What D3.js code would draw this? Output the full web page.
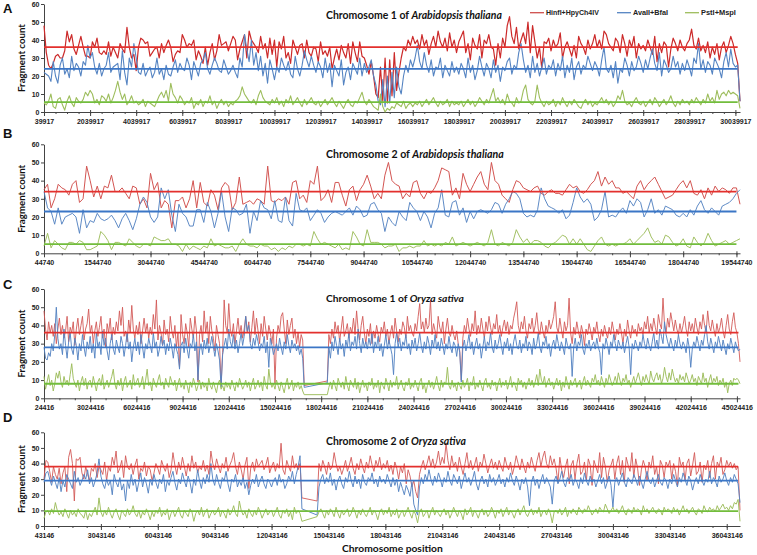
<!DOCTYPE html>
<html><head><meta charset="utf-8">
<script src="https://cdn.jsdelivr.net/npm/d3@7"></script>
<style>body{margin:0;background:#fff}svg{display:block}</style>
</head><body><svg id="chart" width="757" height="555"></svg>
<script>
// ---------- shared ----------
const seriesNames = ["HinfI+HpyCh4IV", "AvaII+BfaI", "PstI+MspI"];
const yTicks = [0, 10, 20, 30, 40, 50, 60];
const stepBp = 100000;
const xAxisTitle = "Chromosome position";
const yAxisTitle = "Fragment count";

// ---------- Panel A : Chromosome 1 of Arabidopsis thaliana ----------
const startA = 39917, labelStepA = 2000000, nA = 303;
const meansA = [36, 24, 5.5];
const redA = [
48,33,26,24,27,31,32,30,30,34,45,39,43,35,32,37,42,36,31,31,
30,39,36,41,33,32,34,32,39,31,36,33,30,38,35,33,47,36,30,32,
23,36,41,40,38,39,31,33,35,36,30,38,33,37,40,36,28,32,34,33,
43,40,36,38,37,40,29,34,31,27,36,26,33,38,29,34,43,37,38,39,
34,38,42,40,29,35,39,43,30,45,40,38,36,33,42,35,38,30,41,32,
40,25,39,35,42,30,33,27,40,36,32,37,38,30,40,33,31,36,35,28,
39,32,34,31,36,24,30,35,29,37,33,30,38,27,39,33,28,39,31,30,
26,21,28,20,10,8,25,6,30,5,29,9,33,12,22,30,36,34,40,37,
42,38,40,35,43,37,40,32,38,42,36,45,39,36,41,34,44,36,40,33,
39,42,45,33,38,29,41,37,35,43,30,40,38,43,36,35,26,38,30,41,
36,48,53,42,38,47,35,40,44,38,50,33,48,39,30,36,24,39,38,41,
34,40,36,38,44,30,36,39,35,31,37,30,42,38,36,32,40,35,38,43,
36,40,35,45,43,38,36,34,41,39,33,43,38,31,40,36,42,30,38,35,
37,34,40,36,32,42,28,38,33,39,37,25,35,41,38,34,40,36,34,38,
40,46,37,35,41,34,37,33,39,30,36,32,38,29,36,39,33,37,42,38,
32,27,6];
const blueA = [
22,21,20,17,28,20,16,26,30,21,24,19,31,23,27,25,20,28,26,37,
30,33,25,21,27,20,24,26,33,22,25,26,27,18,34,22,15,30,25,38,
30,22,21,27,20,23,25,19,22,30,21,24,18,26,21,20,25,29,22,27,
24,23,30,26,18,28,24,20,27,29,33,24,21,26,30,27,23,22,29,25,
21,23,26,22,19,30,25,43,35,28,40,26,33,23,31,20,27,16,29,24,
18,25,22,30,26,23,28,21,19,31,24,20,26,34,29,25,31,26,22,28,
25,19,30,22,27,14,26,23,20,29,15,22,25,18,27,24,21,30,20,27,
22,25,29,20,15,6,4,18,3,20,5,22,8,25,14,10,20,26,22,29,
25,30,37,28,24,33,26,22,29,20,25,24,30,19,26,23,20,28,22,25,
21,27,24,19,30,22,26,18,23,31,25,20,27,24,19,29,22,26,17,25,
23,28,30,21,26,24,33,38,29,22,26,19,31,22,27,20,25,30,21,26,
24,29,20,27,23,31,19,26,22,30,18,25,28,21,26,24,31,27,23,28,
25,20,29,36,24,22,26,19,28,16,24,22,30,26,20,28,23,25,31,27,
22,29,24,30,35,27,23,33,20,29,26,22,24,31,25,28,21,27,23,29,
25,20,30,27,38,24,29,22,28,26,21,30,27,24,19,28,33,25,35,27,
25,26,6];
const greenA = [
5,4,6,10,3,2,7,8,4,1,6,9,5,3,8,6,5,7,11,9,
12,10,5,7,4,9,8,6,10,5,8,12,17,11,7,10,4,6,9,5,
6,4,5,7,3,6,5,4,3,6,9,11,8,12,6,16,10,8,5,9,
7,4,6,5,8,2,5,4,7,3,6,5,9,4,6,2,5,7,4,6,
3,5,4,6,7,9,14,10,8,6,5,7,4,9,12,8,6,5,4,7,
5,8,4,6,3,7,5,9,4,6,8,5,3,7,4,6,8,5,4,6,
3,5,7,4,6,8,5,3,6,4,2,5,7,4,3,6,5,8,11,6,
4,7,5,3,2,1,10,3,0,2,1,3,2,5,4,3,6,2,4,5,
3,5,4,6,3,5,7,4,6,8,5,3,6,4,5,7,3,6,4,5,
4,6,3,5,7,4,6,3,5,8,6,4,7,5,9,13,6,8,5,7,
4,10,6,5,3,8,5,6,12,15,7,5,4,6,15,8,5,3,6,4,
5,7,3,6,4,8,5,3,6,4,7,5,3,2,5,7,4,6,3,5,
4,6,8,5,7,4,6,3,5,9,7,12,6,4,5,3,6,8,5,4,
6,3,5,7,4,8,6,3,5,7,4,6,9,5,3,6,4,7,5,6,
4,7,5,8,6,4,7,5,10,6,8,5,12,7,10,11,9,12,10,11,
10,9,2];

// ---------- Panel B : Chromosome 2 of Arabidopsis thaliana ----------
const startB = 44740, labelStepB = 1500000, nB = 197;
const meansB = [34, 23, 5];
const redB = [
35,38,25,30,38,36,35,32,38,40,28,30,48,40,31,
37,30,37,36,43,34,34,36,33,30,37,36,27,30,25,
44,35,39,25,29,27,14,29,29,31,25,30,40,25,39,
28,26,35,32,24,36,39,37,24,28,42,27,28,29,27,
30,29,27,48,29,28,30,29,31,27,39,40,30,32,28,
40,38,48,29,31,35,28,39,39,32,26,35,37,29,35,
38,43,37,30,33,30,43,50,40,38,37,30,33,31,39,
40,33,30,34,33,36,40,47,46,45,32,36,30,44,38,
34,38,42,45,38,35,50,40,38,32,30,28,35,40,39,
36,35,34,36,37,33,32,34,35,33,33,32,35,38,36,
37,34,33,35,38,40,45,37,42,38,40,36,36,33,34,
32,30,37,40,35,38,40,42,38,34,30,31,32,35,38,
40,36,40,33,32,35,30,36,32,37,34,36,35,33,36,
36,27];
const blueB = [
34,25,23,16,25,16,20,21,22,20,11,24,14,18,17,
22,19,18,19,21,18,14,19,22,18,13,19,27,31,28,
20,17,20,36,30,35,21,12,27,22,20,15,15,24,24,
17,28,23,14,22,34,20,12,25,24,21,22,27,11,23,
18,29,25,24,19,29,18,17,31,18,15,33,24,23,25,
18,21,24,22,17,20,22,23,22,21,23,25,21,26,24,
20,21,27,28,24,22,12,20,17,15,23,20,18,28,25,
23,18,23,20,14,22,25,35,21,20,28,29,21,25,17,
23,19,23,24,23,22,24,28,27,22,27,30,34,33,30,
22,20,21,20,24,36,30,26,25,24,22,24,19,21,28,
36,31,28,30,27,18,20,24,34,20,21,20,23,25,22,
29,26,30,28,20,24,30,22,24,21,26,25,24,21,20,
22,20,24,21,26,29,24,22,25,23,21,26,27,28,30,
33,35];
const greenB = [
4,11,3,7,5,3,2,6,6,5,7,6,2,2,3,
4,12,10,7,2,6,6,5,4,8,6,4,3,5,5,
4,9,8,7,7,8,5,5,4,1,5,2,4,3,2,
4,3,8,4,5,4,3,3,4,1,5,8,5,4,4,
3,5,4,4,2,3,1,3,2,4,3,5,5,4,5,
4,12,8,5,6,5,4,3,5,2,3,2,12,9,5,
4,13,6,6,6,5,3,4,4,5,1,3,3,4,3,
4,4,7,4,5,4,5,4,6,5,9,4,5,6,5,
4,5,6,5,4,6,13,5,4,6,5,4,6,13,9,
6,8,5,7,7,6,4,3,5,6,8,10,9,5,8,
5,8,5,2,1,4,7,9,5,4,5,4,5,5,6,
8,5,7,9,11,14,9,6,7,5,10,9,6,4,5,
8,4,3,9,6,4,6,11,7,4,5,6,7,5,6,
7,8];

// ---------- Panel C : Chromosome 1 of Oryza sativa ----------
const startC = 24416, labelStepC = 3000000, nC = 453;
const meansC = [36, 28, 8];
const redC = [
48,38,32,42,36,40,34,41,30,38,44,35,40,33,37,45,31,39,36,42,29,38,44,35,40,45,32,38,41,49,
36,40,30,37,42,34,39,45,33,38,28,41,36,44,32,39,35,42,37,48,40,50,34,37,31,43,36,51,38,33,
40,35,42,30,37,44,36,41,33,39,35,46,38,54,32,40,36,29,43,35,38,31,45,37,33,40,28,36,17,46,
35,30,41,36,28,44,38,33,45,37,9,35,40,31,48,36,42,30,45,37,33,26,40,35,30,7,25,54,40,36,
52,38,34,41,30,37,44,35,40,33,38,45,36,42,31,39,48,35,44,37,30,41,34,45,38,32,40,36,30,38,
8,33,40,36,45,47,38,30,43,35,40,44,33,38,30,36,28,35,32,7,null,null,null,null,null,null,null,null,null,null,
null,null,null,null,9.5,35,30,38,33,42,36,40,31,38,45,34,37,41,33,39,36,44,35,48,38,32,40,45,36,30,
38,34,41,30,37,33,40,35,31,39,36,42,34,38,30,36,40,33,44,37,31,38,35,42,39,33,45,37,40,36,
34,41,37,45,52,38,42,36,44,38,40,54,35,41,37,33,45,39,36,42,30,38,44,36,34,40,35,32,37,30,
26,10,33,40,36,44,38,34,41,37,48,35,40,36,44,38,33,42,37,45,39,35,41,38,46,36,40,34,39,43,
37,42,35,40,38,44,48,53,40,36,42,38,45,37,33,41,38,44,36,40,47,38,35,42,37,33,40,36,43,38,
41,45,53,39,36,44,38,33,42,37,40,55,36,30,39,35,42,37,33,40,36,29,38,35,41,37,32,39,36,42,
35,31,38,34,40,36,33,39,35,42,37,32,38,35,41,36,30,38,34,43,37,33,40,36,38,34,41,37,39,35,
42,38,45,36,41,37,44,39,35,46,41,38,55,40,36,44,39,47,42,37,43,38,35,41,36,40,45,38,34,42,
37,41,36,44,39,35,42,38,46,40,36,48,40,37,43,38,34,41,36,39,44,37,33,40,46,38,35,42,47,39,
36,30,20];
const blueC = [
28,22,21,25,23,30,26,35,50,33,27,30,24,38,29,22,31,36,27,24,33,29,21,30,26,35,28,23,31,27,
34,25,30,22,36,28,31,24,37,29,33,26,21,30,35,27,24,32,28,25,34,30,23,29,36,27,31,20,28,33,
26,31,24,35,28,22,30,27,33,29,25,36,28,31,23,27,34,29,32,24,30,26,33,28,22,30,27,24,16,29,
31,25,33,27,22,30,28,35,26,31,10,26,30,24,32,27,33,25,29,34,28,23,30,26,21,6,24,29,33,27,
38,31,28,35,27,32,25,30,36,29,34,45,37,40,30,27,33,29,35,31,26,30,28,34,25,31,17,33,29,24,
27,30,26,33,28,24,31,27,35,29,25,32,28,30,26,29,24,27,22,6,null,null,null,null,null,null,null,null,null,null,
null,null,null,null,8.5,28,22,31,26,34,29,24,33,27,30,23,32,28,36,26,31,29,34,27,38,30,25,33,28,31,
27,33,29,36,25,31,28,34,26,30,23,29,35,27,32,28,24,13,30,36,28,33,26,31,29,35,27,30,24,32,
28,33,26,30,36,29,25,31,27,34,30,24,32,28,35,27,31,26,33,29,24,30,27,34,28,25,31,29,23,30,
25,9,28,32,26,30,35,27,31,24,29,33,27,30,22,28,34,26,31,29,36,28,25,32,27,30,35,29,24,31,
28,33,26,30,24,31,35,29,27,32,25,30,28,34,26,31,29,24,33,27,30,36,28,25,31,29,34,27,30,23,
29,32,27,35,30,26,31,28,24,33,29,27,30,12,28,33,26,31,29,35,27,24,30,28,32,26,29,31,27,33,
28,25,13,30,27,33,29,24,31,28,35,30,26,32,29,27,31,25,30,34,28,13,30,27,32,29,26,31,28,35,
30,27,33,29,26,31,36,28,32,27,38,34,30,42,35,31,28,33,29,26,32,28,35,30,27,31,29,25,33,28,
17,27,31,28,34,30,26,32,29,35,40,31,27,33,29,25,31,28,34,30,26,32,28,24,30,27,33,29,25,31,
28,26,27];
const greenC = [
12,5,9,13,7,10,4,8,14,11,15,9,6,12,8,10,7,13,19,11,8,6,10,4,9,12,7,11,5,9,
10,6,12,8,4,9,11,7,13,5,8,10,6,9,12,16,8,5,10,7,11,4,9,12,6,8,10,5,13,7,
9,11,6,8,12,5,10,16,7,9,4,11,8,6,10,13,7,9,5,11,8,6,12,9,7,10,4,8,11,6,
8,5,10,7,3,9,6,11,8,4,7,10,5,9,6,8,4,11,7,5,9,6,3,8,10,5,7,4,9,6,
8,5,10,7,4,9,6,11,8,5,7,10,6,9,4,8,11,5,7,10,6,9,4,12,7,5,16,9,6,8,
5,10,7,4,9,6,3,8,11,5,7,10,4,8,6,9,5,7,4,2,null,null,null,null,null,null,null,null,null,null,
null,null,null,null,2,6,9,5,10,7,4,11,8,6,9,5,12,7,4,10,8,6,11,5,9,3,7,10,6,8,
4,9,7,11,5,8,6,10,3,9,7,5,11,8,4,10,6,9,7,12,5,8,10,6,4,9,7,11,5,8,
6,10,7,4,9,11,5,8,3,7,10,6,9,5,8,12,7,4,10,6,9,8,17,7,5,10,6,8,4,9,
7,5,10,6,8,11,4,9,7,12,5,8,6,10,7,4,9,11,6,8,5,10,7,9,4,8,11,6,9,7,
10,5,8,12,6,9,7,4,11,8,10,6,9,5,8,11,7,10,6,9,13,7,16,10,8,12,6,9,11,7,
9,5,8,11,7,10,4,9,6,12,8,5,10,7,9,11,6,8,10,5,9,12,7,10,8,6,11,9,13,8,
10,7,12,9,6,11,8,13,10,7,9,12,8,14,10,7,11,9,13,8,10,6,9,12,8,11,14,10,7,12,
9,13,10,8,15,11,9,12,14,10,13,8,11,17,12,9,14,10,16,12,9,11,8,13,10,12,9,14,11,8,
10,13,9,11,7,12,10,8,14,9,11,6,10,13,8,11,9,12,7,10,8,11,6,9,3,8,10,7,11,10,
11,10,8];

// ---------- Panel D : Chromosome 2 of Oryza sativa ----------
const startD = 43146, labelStepD = 3000000, nD = 368;
const meansD = [38, 29, 9.5];
const redD = [
30,42,41,35,28,38,33,30,37,27,34,38,22,44,49,40,16,43,42,44,34,30,38,33,29,37,35,40,31,38,
36,33,41,29,38,35,44,39,48,34,37,42,31,45,38,36,40,33,39,43,30,37,35,41,32,38,36,29,34,40,
37,33,42,38,35,40,31,36,47,39,33,41,36,44,38,32,40,35,45,37,41,34,38,36,42,35,39,33,48,40,
36,43,38,34,40,37,44,35,39,42,47,38,33,41,36,30,39,44,24,37,41,35,43,38,40,42,36,39,44,34,
38,41,35,40,37,53,36,33,42,38,35,45,37,40,36,40,18,null,null,null,null,null,null,null,16,40,35,42,38,33,
41,36,38,47,40,35,38,33,37,42,35,39,44,37,33,40,36,43,38,34,41,37,45,39,35,42,38,44,36,40,
37,42,35,39,33,41,37,30,38,34,40,27,36,32,25,29,22,18,33,38,42,36,40,45,38,43,37,41,48,39,
44,40,53,42,36,45,38,41,35,44,38,33,40,47,37,42,36,39,44,35,41,38,46,40,34,39,43,37,41,36,
42,38,35,44,39,36,41,33,38,45,40,36,43,38,34,41,37,44,39,35,42,47,38,44,48,40,37,45,39,43,
37,28,44,36,31,38,43,27,39,42,30,40,46,33,35,41,29,43,39,26,42,38,34,47,31,44,38,28,36,39,
43,30,40,45,33,42,28,44,39,35,47,31,43,37,26,36,42,38,29,41,37,45,33,38,27,42,39,31,41,38,
42,30,40,35,26,44,38,41,29,40,43,32,39,47,33,35,41,28,39,36,42,31,40,45,30,41,38,44,33,36,
42,38,41,37,40,36,38,10];
const blueD = [
28,34,35,30,26,32,28,24,31,22,29,25,33,30,27,24,35,28,31,26,29,33,30,36,27,31,25,29,34,43,
32,27,24,30,26,29,20,33,28,25,31,23,27,16,29,24,33,26,30,22,28,34,25,31,27,21,30,26,33,28,
24,30,27,33,22,29,26,31,35,28,23,30,27,34,29,25,32,28,21,30,26,36,29,24,31,27,33,28,40,30,
26,33,28,24,31,29,35,27,22,30,28,33,25,29,26,31,24,28,20,26,30,27,33,25,29,32,27,24,30,28,
25,29,31,26,33,28,30,24,27,32,29,35,27,33,38,45,11,null,null,null,null,null,null,null,7,25,30,33,27,31,
28,34,26,30,23,29,32,27,24,31,28,35,29,25,32,27,30,24,33,28,26,31,29,34,27,30,25,32,28,30,
27,33,29,25,31,26,30,22,28,24,20,26,23,19,28,14,10,7,25,31,27,33,29,36,30,26,32,28,34,30,
25,31,28,35,29,26,33,30,27,32,24,29,34,28,31,26,30,35,27,23,29,32,27,30,25,33,28,31,26,29,
33,27,30,25,31,28,34,29,26,32,28,23,30,27,31,25,13,28,32,26,30,24,29,33,27,31,28,25,14,29,
32,27,30,35,28,25,31,29,33,26,30,28,24,31,27,34,29,26,32,28,30,25,29,33,27,31,24,28,32,26,
12,28,31,26,30,34,28,25,31,29,27,33,30,26,32,28,24,30,35,29,27,31,25,29,33,28,26,31,29,24,
30,27,33,29,25,31,28,34,30,26,32,29,23,28,31,27,33,29,26,30,28,35,27,31,29,25,32,28,30,34,
29,26,31,28,33,30,27,15];
const greenD = [
5,9,10,7,11,8,15,10,7,9,6,11,8,5,10,7,9,6,11,8,7,5,10,4,8,6,9,12,7,18,
9,6,10,7,12,8,5,9,11,7,4,10,8,6,11,7,9,13,8,6,10,5,9,7,11,8,4,9,6,10,
8,12,6,9,7,11,4,8,10,6,9,12,7,5,10,8,6,11,9,3,8,10,7,12,6,9,11,5,8,10,
7,9,12,6,10,8,5,11,7,9,13,8,6,16,10,7,9,5,11,8,6,10,7,12,9,5,8,11,7,9,
10,6,9,12,7,5,10,8,11,6,9,4,12,8,10,8,3,null,null,null,null,null,null,null,6,9,11,8,5,10,
7,11,9,6,12,8,5,10,7,9,11,6,8,12,9,5,10,7,11,8,6,9,12,7,10,8,4,9,11,7,
10,8,12,6,9,7,11,5,8,10,6,9,12,8,5,10,7,2,9,11,6,8,10,5,9,12,7,10,8,6,
9,11,7,10,5,8,12,9,6,10,8,4,11,7,9,12,6,10,8,5,9,11,7,10,6,8,12,9,5,10,
8,11,6,9,12,7,10,8,5,9,11,7,10,13,8,6,9,11,7,10,8,12,6,9,10,7,11,8,2,9,
10,8,11,7,9,12,6,10,8,11,9,7,12,10,8,11,9,13,10,7,9,11,8,12,10,9,14,11,8,10,
12,9,11,8,10,13,9,7,11,10,8,12,9,11,10,7,13,9,11,8,10,12,9,8,11,10,7,12,9,11,
10,8,12,9,11,7,10,13,9,11,8,10,12,9,7,11,10,8,13,10,9,12,10,11,9,13,10,12,14,11,
12,10,13,11,15,14,17,3];

// ---------- layout / style (not data) ----------
const seriesColor = ["#cf4f4c", "#5584c2", "#9dbd5c"];
const meanColor = ["#e3302d", "#3b76c6", "#72bd3c"];
const panels = [
  {letter:"A", pre:"Chromosome 1 of ", sp:"Arabidopsis thaliana", start:startA, labelStep:labelStepA, minor:500000, n:nA,
   data:[redA, blueA, greenA], means:meansA, yTop:4, yBot:112, letterY:12.5, titleY:18.5, titleW:176, redColor:"#cc2a2a", redW:1.2},
  {letter:"B", pre:"Chromosome 2 of ", sp:"Arabidopsis thaliana", start:startB, labelStep:labelStepB, minor:500000, n:nB,
   data:[redB, blueB, greenB], means:meansB, yTop:144.3, yBot:253.3, letterY:138, titleY:157.5, titleW:178, redColor:"#d35552", redW:1},
  {letter:"C", pre:"Chromosome 1 of ", sp:"Oryza sativa", start:startC, labelStep:labelStepC, minor:1000000, n:nC,
   data:[redC, blueC, greenC], means:meansC, yTop:289, yBot:398.3, letterY:288.5, titleY:301.5, titleW:138, redColor:"#d35a58", redW:0.9},
  {letter:"D", pre:"Chromosome 2 of ", sp:"Oryza sativa", start:startD, labelStep:labelStepD, minor:750000, n:nD,
   data:[redD, blueD, greenD], means:meansD, yTop:432.3, yBot:526, letterY:422, titleY:444.5, titleW:140, redColor:"#d35a58", redW:0.9}
];

const svg = d3.select("#chart");
const X0 = 44, X1 = 740;
const tickFont = "'Liberation Sans', Arial, sans-serif";
const labelFont = "Lato, 'Open Sans', sans-serif";

function fitWidth(sel, target) {
  const w = sel.node().getComputedTextLength();
  const fs = parseFloat(sel.attr("font-size"));
  if (w > 0) sel.attr("font-size", fs * target / w);
}

panels.forEach(p => {
  const end = p.start + (p.n - 1) * stepBp;
  const x = d3.scaleLinear().domain([p.start, end]).range([X0, X1]);
  const y = d3.scaleLinear().domain([0, 60]).range([p.yBot, p.yTop]);
  const g = svg.append("g");

  // y axis
  const ya = g.append("g").attr("transform", `translate(${X0},0)`)
    .call(d3.axisLeft(y).tickValues(yTicks).tickSize(3).tickSizeOuter(0).tickPadding(1.5));
  ya.selectAll("text").attr("font-size", 7).attr("font-weight", "bold").attr("font-family", tickFont).attr("fill", "#222");
  ya.selectAll("line,path").attr("stroke", "#444");

  // x axis labels & major/minor ticks
  const labels = d3.range(p.start, end + 1, p.labelStep);
  const minors = d3.range(p.start, end + 1, p.minor);
  const xm = g.append("g").attr("transform", `translate(0,${p.yBot})`)
    .call(d3.axisBottom(x).tickValues(minors).tickSize(2).tickSizeOuter(0).tickFormat(""));
  xm.select(".domain").remove();
  xm.selectAll("line").attr("stroke", "#444");
  const xa = g.append("g").attr("transform", `translate(0,${p.yBot})`)
    .call(d3.axisBottom(x).tickValues(labels).tickSize(4).tickSizeOuter(0).tickPadding(3).tickFormat(d3.format("d")));
  xa.selectAll(".tick line").attr("y1", -2);
  xa.selectAll("text").attr("font-size", 7).attr("font-weight", "bold").attr("font-family", tickFont).attr("fill", "#222");
  xa.selectAll("line,path").attr("stroke", "#444");

  // series (gaps with missing values are bridged by a straight segment)
  [0, 1, 2].forEach(si => {
    const pts = p.data[si].map((v, i) => [p.start + i * stepBp, v]).filter(d => d[1] != null);
    const line = d3.line().x(d => x(d[0])).y(d => y(d[1]));
    g.append("path").attr("d", line(pts)).attr("fill", "none")
      .attr("stroke", si === 0 ? p.redColor : seriesColor[si])
      .attr("stroke-width", si === 0 ? p.redW : (p.letter === "A" ? 1.1 : 0.95))
      .attr("stroke-linejoin", "round");
  });
  // mean lines
  p.means.forEach((m, si) => {
    g.append("line").attr("x1", x(p.start)).attr("x2", x(end - stepBp))
      .attr("y1", y(m)).attr("y2", y(m))
      .attr("stroke", meanColor[si]).attr("stroke-width", 1.8);
  });

  // panel letter
  g.append("text").attr("x", 3).attr("y", p.letterY).text(p.letter)
    .attr("font-family", "'Liberation Sans', Arial, sans-serif").attr("font-weight", "bold").attr("font-size", 13).attr("fill", "#111");

  // title
  const t = g.append("text").attr("x", 326).attr("y", p.titleY)
    .attr("font-family", labelFont).attr("font-weight", "bold").attr("font-size", 10).attr("fill", "#111");
  t.append("tspan").text(p.pre);
  t.append("tspan").attr("font-style", "italic").text(p.sp);
  fitWidth(t, p.titleW);

  // y title
  const yc = (p.yTop + p.yBot) / 2;
  const yt = g.append("text").attr("transform", `translate(24.5,${yc}) rotate(-90)`)
    .attr("text-anchor", "middle").attr("font-family", labelFont).attr("font-weight", "bold")
    .attr("font-size", 10).attr("fill", "#111").text(yAxisTitle);
  fitWidth(yt, 68);
});

// legend (panel A)
const legX = [530, 617, 685];
const legW = [53, 35, 35];
seriesNames.forEach((name, i) => {
  svg.append("line").attr("x1", legX[i]).attr("x2", legX[i] + 14).attr("y1", 12.7).attr("y2", 12.7)
    .attr("stroke", seriesColor[i]).attr("stroke-width", 1.3);
  const lt = svg.append("text").attr("x", legX[i] + 16).attr("y", 15.2).text(name)
    .attr("font-family", tickFont).attr("font-weight", "bold").attr("font-size", 6.5).attr("fill", "#222");
  fitWidth(lt, legW[i]);
});

// x title
const xt = svg.append("text").attr("x", 342).attr("y", 552).text(xAxisTitle)
  .attr("font-family", labelFont).attr("font-weight", "bold").attr("font-size", 11).attr("fill", "#111");
fitWidth(xt, 101);
</script>
</body></html>
